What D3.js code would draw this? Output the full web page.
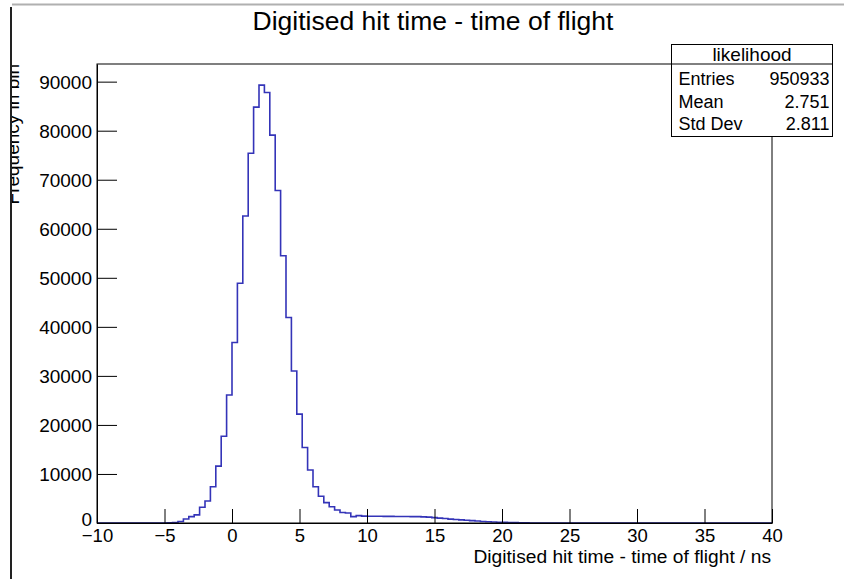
<!DOCTYPE html>
<html>
<head>
<meta charset="utf-8">
<script src="https://cdn.jsdelivr.net/npm/d3@7"></script>
<style>
  body { margin: 0; background: #fff; }
  svg { display: block; }
  text { font-family: "Liberation Sans", Arial, Helvetica, sans-serif; fill: #000; }
</style>
</head>
<body>
<svg id="chart"></svg>
<script>
// ----------------------------------------
//  Data
// ----------------------------------------

// histogram binning: 125 bins of 0.4 ns from -10 to 40
var binStart = -10,
    binWidth = 0.4,
    nBins = 125;

// first non-empty bin index, then counts per bin (everything else is 0)
var firstBin = 13;
var counts = [
  60, 110, 300, 820, 1300, 1650, 3200, 4500, 7400, 11600,
  17700, 26100, 36800, 48900, 62600, 75400, 84800, 89300, 87800, 79100,
  67800, 54500, 41900, 31000, 22200, 15400, 10800, 7400, 5450, 4150,
  3300, 2650, 2150, 2050, 1300, 1500, 1400, 1380, 1370, 1380,
  1350, 1360, 1340, 1330, 1320, 1300, 1290, 1250, 1200, 1100,
  1000, 920, 800, 720, 640, 560, 480, 400, 320, 250,
  200, 160, 130, 100, 80, 60, 40
];

var xTicks = [-10, -5, 0, 5, 10, 15, 20, 25, 30, 35, 40];
var yTicks = [0, 10000, 20000, 30000, 40000, 50000, 60000, 70000, 80000, 90000];

var statsName = "likelihood";
var statsLabels = ["Entries", "Mean", "Std Dev"];
var statsValues = ["950933", "2.751", "2.811"];

var title = "Digitised hit time - time of flight";
var xTitle = "Digitised hit time - time of flight / ns";
var yTitle = "Frequency in bin";

// ----------------------------------------
// Sizing
// ----------------------------------------

var width = 844, height = 579;
var frame = { left: 97, right: 772, top: 64, bottom: 523 };
var yMax = 93600;

var svg = d3.select('#chart')
    .attr("width", width)
    .attr("height", height);

var x = d3.scaleLinear()
    .domain([binStart, binStart + nBins * binWidth])
    .range([frame.left, frame.right]);

var y = d3.scaleLinear()
    .domain([0, yMax])
    .range([frame.bottom, frame.top]);

// ----------------------------------------
// Screenshot edges (window border)
// ----------------------------------------
svg.append("line")
    .attr("x1", 12).attr("x2", width).attr("y1", 4.5).attr("y2", 4.5)
    .attr("stroke", "#b0b0b0").attr("stroke-width", 2);
svg.append("line")
    .attr("x1", 11).attr("x2", 11).attr("y1", 7).attr("y2", height)
    .attr("stroke", "#222").attr("stroke-width", 2);

// ----------------------------------------
// Histogram
// ----------------------------------------
var bins = d3.range(nBins).map(function(k) {
  var c = (k >= firstBin && k < firstBin + counts.length) ? counts[k - firstBin] : 0;
  return { lo: binStart + k * binWidth, count: c };
});
bins.push({ lo: binStart + nBins * binWidth, count: 0 });

svg.append("clipPath").attr("id", "frameClip")
  .append("rect")
    .attr("x", frame.left).attr("y", frame.top)
    .attr("width", frame.right - frame.left)
    .attr("height", frame.bottom - frame.top);

var line = d3.line()
    .x(function(d) { return x(d.lo); })
    .y(function(d) { return y(d.count); })
    .curve(d3.curveStepAfter);

svg.append("path")
    .datum(bins)
    .attr("clip-path", "url(#frameClip)")
    .attr("fill", "none")
    .attr("stroke", "#3434b8")
    .attr("stroke-width", 1.6)
    .attr("d", line);

// ----------------------------------------
// Frame + axes (ROOT style, ticks inward)
// ----------------------------------------
svg.append("rect")
    .attr("x", frame.left).attr("y", frame.top)
    .attr("width", frame.right - frame.left)
    .attr("height", frame.bottom - frame.top)
    .attr("fill", "none").attr("stroke", "#000").attr("stroke-width", 1);

var xMinor = d3.range(-10, 41, 1).filter(function(v) { return v % 5 !== 0; });
var yMinor = d3.range(0, yMax, 2000).filter(function(v) { return v % 10000 !== 0; });

var gx = svg.append("g").attr("transform", "translate(0," + frame.bottom + ")");
gx.call(d3.axisBottom(x).tickValues(xMinor).tickSize(-7).tickFormat("").tickSizeOuter(0));
gx.call(d3.axisBottom(x).tickValues(xTicks).tickSize(-14).tickSizeOuter(0)
    .tickFormat(function(d) { return d < 0 ? "\u2212" + Math.abs(d) : d; }));
gx.selectAll("text").attr("y", 5.5).attr("dy", "0.71em").attr("font-size", 18.5).attr("font-family", null);

var gy = svg.append("g").attr("transform", "translate(" + frame.left + ",0)");
gy.call(d3.axisLeft(y).tickValues(yMinor).tickSize(-10).tickFormat("").tickSizeOuter(0));
gy.call(d3.axisLeft(y).tickValues(yTicks).tickSize(-20).tickSizeOuter(0).tickFormat(d3.format("d")));
gy.selectAll("text").attr("x", -5).attr("dy", "0.36em").attr("font-size", 19).attr("font-family", null);

svg.selectAll(".domain").attr("stroke", "#000");
svg.selectAll(".tick line").attr("stroke", "#000");
// the "0" label sits just above the x labels
gy.selectAll(".tick text").filter(function(d) { return d === 0; }).attr("dy", "0.15em");

// ----------------------------------------
// Titles
// ----------------------------------------
svg.append("text")
    .attr("x", 433).attr("y", 30)
    .attr("text-anchor", "middle")
    .attr("font-size", 26.5)
    .text(title);

svg.append("text")
    .attr("x", frame.right - 1).attr("y", 562.5)
    .attr("text-anchor", "end")
    .attr("font-size", 19.2)
    .text(xTitle);

svg.append("clipPath").attr("id", "leftClip")
  .append("rect").attr("x", 12).attr("y", 0).attr("width", 200).attr("height", height);

svg.append("g")
    .attr("clip-path", "url(#leftClip)")
  .append("text")
    .attr("transform", "translate(19," + frame.top + ") rotate(-90)")
    .attr("text-anchor", "end")
    .attr("font-size", 19)
    .text(yTitle);

// ----------------------------------------
// Stats box
// ----------------------------------------
var box = { x: 671.5, y: 44.5, w: 161, h: 92, head: 19.5 };
var stats = svg.append("g");
stats.append("rect")
    .attr("x", box.x).attr("y", box.y).attr("width", box.w).attr("height", box.h)
    .attr("fill", "#fff").attr("stroke", "#000").attr("stroke-width", 1);
stats.append("line")
    .attr("x1", box.x).attr("x2", box.x + box.w)
    .attr("y1", box.y + box.head).attr("y2", box.y + box.head)
    .attr("stroke", "#000");
stats.append("text")
    .attr("x", box.x + box.w / 2).attr("y", 60.5)
    .attr("text-anchor", "middle").attr("font-size", 19)
    .text(statsName);

stats.selectAll("text.lab").data(statsLabels).enter().append("text")
    .attr("class", "lab")
    .attr("x", box.x + 7)
    .attr("y", function(d, i) { return 85 + i * 22.5; })
    .attr("font-size", 18)
    .text(function(d) { return d; });

stats.selectAll("text.val").data(statsValues).enter().append("text")
    .attr("class", "val")
    .attr("x", box.x + box.w - 3)
    .attr("y", function(d, i) { return 85 + i * 22.5; })
    .attr("text-anchor", "end")
    .attr("font-size", 18)
    .text(function(d) { return d; });
</script>
</body>
</html>
